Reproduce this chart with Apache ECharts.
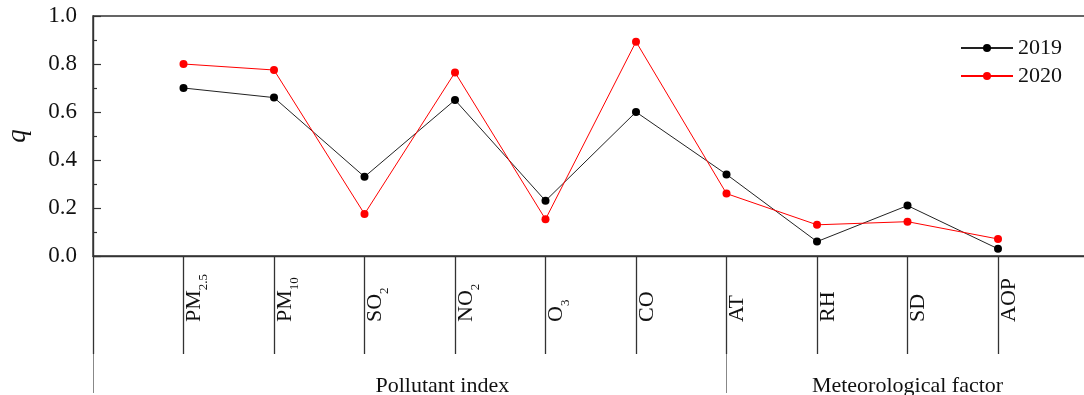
<!DOCTYPE html>
<html>
<head>
<meta charset="utf-8">
<title>q values 2019 vs 2020</title>
<script src="https://cdn.jsdelivr.net/npm/echarts@6/dist/echarts.min.js"></script>
<style>
  html, body { margin: 0; padding: 0; background: #fff; }
  #chart { width: 1084px; height: 395px; }
</style>
</head>
<body>
<div id="chart"></div>
<script>
// Factor names along the x axis (digits after letters are drawn as subscripts)
const categories = ['PM2.5', 'PM10', 'SO2', 'NO2', 'O3', 'CO', 'AT', 'RH', 'SD', 'AOP'];
// q statistic per factor
const values2019 = [0.70, 0.66, 0.33, 0.65, 0.23, 0.60, 0.34, 0.06, 0.21, 0.03];
const values2020 = [0.80, 0.775, 0.175, 0.765, 0.153, 0.893, 0.26, 0.13, 0.143, 0.071];
// Group bands under the factor names
const groupNames = ['Pollutant index', 'Meteorological factor'];
const groupBounds = [0, 7];        // band edges, in axis-slot units
const groupLabelAt = [3.86, 9];    // label centres, in axis-slot units
const yTicks = { min: 0, max: 1, interval: 0.2 };

const FONT = "'Liberation Serif', 'Times New Roman', serif";

// one empty slot on each side of the factors
const axisSlots = [''].concat(categories, ['']);
const pad = arr => [null].concat(arr, [null]);

function subLabel(name) {
  const m = /^([A-Za-z]+)([\d.]+)$/.exec(name);
  return m ? '{n|' + m[1] + '}{s|' + m[2] + '}' : '{n|' + name + '}';
}

const chart = echarts.init(document.getElementById('chart'), null, { renderer: 'canvas' });

chart.setOption({
  animation: false,
  backgroundColor: '#fff',
  grid: {
    left: 93, top: 16, width: 995.5, height: 240,
    show: true, borderColor: '#333', borderWidth: 1.4,
    containLabel: false,
    outerBoundsMode: 'none'
  },
  legend: {
    orient: 'vertical',
    left: 955, top: 32,
    itemWidth: 52, itemHeight: 10, itemGap: 6,
    textStyle: { fontFamily: FONT, fontSize: 22, color: '#111' },
    data: ['2019', '2020']
  },
  xAxis: [
    {
      type: 'category',
      data: axisSlots,
      boundaryGap: false,
      axisLine: { show: true, lineStyle: { color: '#333', width: 1.4 } },
      axisTick: { show: true, interval: 0, length: 98, lineStyle: { color: '#333', width: 1.3 } },
      axisLabel: {
        interval: 0,
        rotate: 90,
        align: 'left',
        verticalAlign: 'top',
        margin: 66,
        formatter: v => (v ? subLabel(v) : ''),
        rich: {
          n: { fontFamily: FONT, fontSize: 22, lineHeight: 22, color: '#111', verticalAlign: 'top' },
          s: { fontFamily: FONT, fontSize: 13, lineHeight: 13, color: '#111', verticalAlign: 'top', padding: [14, 0, 0, 0] }
        }
      },
      splitLine: { show: false }
    },
    {
      type: 'value',
      min: 0, max: axisSlots.length - 1,
      position: 'bottom',
      offset: 98,
      axisLine: { show: false },
      axisTick: { show: true, customValues: groupBounds, length: 39, lineStyle: { color: '#888', width: 1 } },
      axisLabel: {
        customValues: groupLabelAt,
        margin: 21,
        fontFamily: FONT, fontSize: 22, color: '#111',
        formatter: v => groupNames[groupLabelAt.indexOf(v)] || ''
      },
      splitLine: { show: false }
    }
  ],
  yAxis: {
    type: 'value',
    min: yTicks.min, max: yTicks.max, interval: yTicks.interval,
    name: 'q',
    nameLocation: 'middle',
    nameGap: 62,
    nameTextStyle: { fontFamily: FONT, fontSize: 27, fontStyle: 'italic', color: '#111' },
    axisLine: { show: true, lineStyle: { color: '#333', width: 1.4 } },
    axisTick: { show: true, inside: true, length: 8, lineStyle: { color: '#333', width: 1.2 } },
    minorTick: { show: true, splitNumber: 2, length: 4, lineStyle: { color: '#333', width: 1.2 } },
    axisLabel: {
      margin: 16,
      fontFamily: FONT, fontSize: 23, color: '#111',
      formatter: v => v.toFixed(1)
    },
    splitLine: { show: false }
  },
  series: [
    {
      name: '2019',
      type: 'line',
      xAxisIndex: 0,
      data: pad(values2019),
      symbol: 'circle', symbolSize: 8,
      itemStyle: { color: '#000' },
      lineStyle: { color: '#222', width: 1 }
    },
    {
      name: '2020',
      type: 'line',
      xAxisIndex: 0,
      data: pad(values2020),
      symbol: 'circle', symbolSize: 8,
      itemStyle: { color: '#ff0000' },
      lineStyle: { color: '#ff0000', width: 1 }
    }
  ]
});
</script>
</body>
</html>
